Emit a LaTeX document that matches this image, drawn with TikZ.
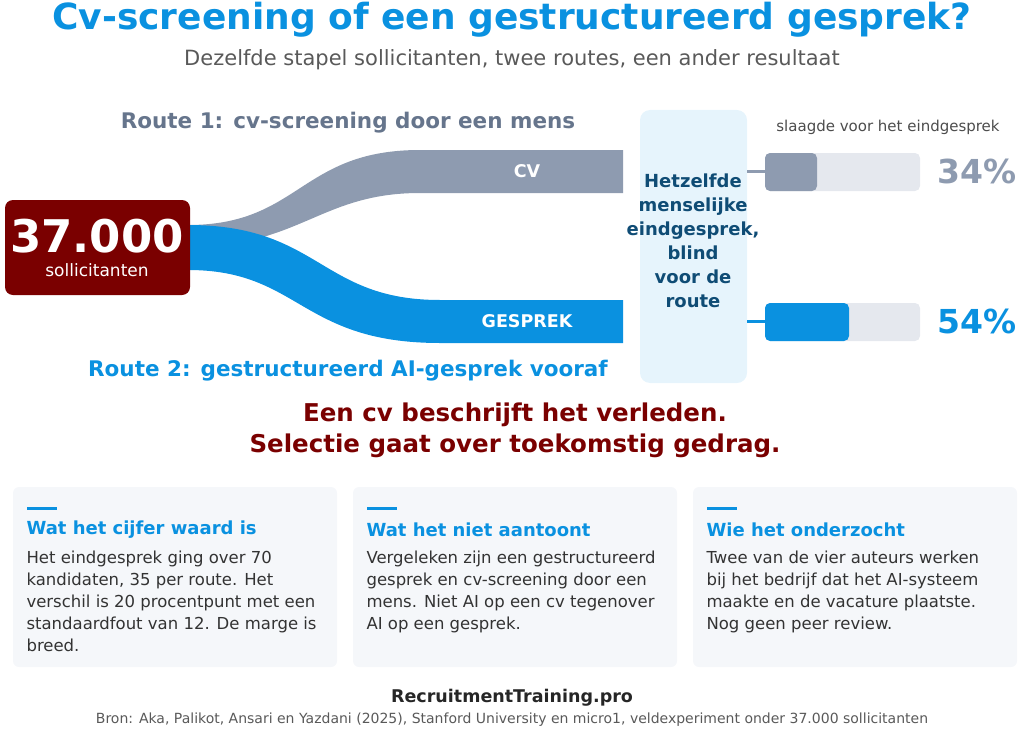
\documentclass[tikz,border=0pt]{standalone}
\usepackage{fontspec}
\setmainfont{DejaVu Sans}
\usetikzlibrary{positioning}
\definecolor{kblue}{HTML}{0A91E0}
\definecolor{kgray}{HTML}{8E9BB0}
\definecolor{kslate}{HTML}{66758C}
\definecolor{kred}{HTML}{7A0000}
\definecolor{kpanel}{HTML}{E6F4FC}
\definecolor{knavy}{HTML}{0F4C75}
\definecolor{ktrack}{HTML}{E5E8EE}
\definecolor{kcard}{HTML}{F5F7FA}
\definecolor{ktext}{HTML}{333333}
\tikzset{
  fs/.style 2 args  = {font=\fontsize{#1}{#2}\selectfont},
  fsb/.style 2 args = {font=\fontsize{#1}{#2}\selectfont\bfseries},
  card/.style     = {fill=kcard, rounded corners=6pt},
  cardhead/.style = {anchor=west, text=kblue, fsb={18}{21}},
  cardbody/.style = {anchor=north west, text=ktext, align=left, fs={16.5}{22}},
  track/.style    = {fill=ktrack, rounded corners=5pt},
  pct/.style      = {anchor=center, fsb={33}{38}}
}
\begin{document}
\begin{tikzpicture}[x=1pt, y=-1pt]
  \useasboundingbox (0,0) rectangle (1024,733);
  % titles
  \node[text=kblue, fsb={36}{40}] (title) at (512,20) {Cv-screening of een gestructureerd gesprek?};
  \node[text=black!65, fs={21}{24}] (sub) at (512,60) {Dezelfde stapel sollicitanten, twee routes, een ander resultaat};
  \node[text=kslate, fsb={21.5}{24}] (r1) at (348,123) {Route 1: cv-screening door een mens};
  \node[text=kblue, fsb={21.5}{24}] (r2) at (348,371) {Route 2: gestructureerd AI-gesprek vooraf};

  % flows
  \fill[kgray] (188,225) .. controls (300,225) and (300,150) .. (420,150) -- (623,150)
    -- (623,193) -- (420,193) .. controls (320,193) and (300,247) .. (188,247) -- cycle;
  \fill[kblue] (188,225) .. controls (320,225) and (320,300) .. (440,300) -- (623,300)
    -- (623,343) -- (440,343) .. controls (300,343) and (300,270) .. (188,270) -- cycle;
  \node[text=white, fsb={17.5}{20}] (cv) at (527,171) {CV};
  \node[text=white, fsb={17.5}{20}] (gs) at (527,321) {GESPREK};

  % applicants
  \fill[kred, rounded corners=8pt] (5,200) rectangle (190,295);
  \node[text=white, fsb={45}{50}] (num) at (97,236) {37.000};
  \node[text=white, fs={17}{20}] (numl) at (97,270) {sollicitanten};

  % interview panel
  \fill[kpanel, rounded corners=10pt] (640,110) rectangle (747,383);
  \node[text=knavy, fsb={18}{24}, align=center] (panel) at (693,241)
    {Hetzelfde\\menselijke\\eindgesprek,\\blind\\voor de\\route};

  % results
  \node[text=black!70, fs={15}{18}] (pass) at (888,127) {slaagde voor het eindgesprek};
  \draw[kgray, line width=3pt] (747,171) -- (765,171);
  \fill[track] (765,153) rectangle (920,191);
  \fill[kgray, rounded corners=5pt] (765,153) rectangle (817,191);
  \node[pct, text=kgray] (p1) at (977,171) {34\%};
  \draw[kblue, line width=3pt] (747,321) -- (765,321);
  \fill[track] (765,303) rectangle (920,341);
  \fill[kblue, rounded corners=5pt] (765,303) rectangle (849,341);
  \node[pct, text=kblue] (p2) at (977,321) {54\%};

  % statement
  \node[text=kred, fsb={24.5}{31}, align=center] (msg) at (515,430)
    {Een cv beschrijft het verleden.\\Selectie gaat over toekomstig gedrag.};

  % cards
  \foreach \x/\head/\body in {
    13/Wat het cijfer waard is/{Het eindgesprek ging over 70\\kandidaten, 35 per route. Het\\verschil is 20 procentpunt met een\\standaardfout van 12. De marge is\\breed.},
    353/Wat het niet aantoont/{Vergeleken zijn een gestructureerd\\gesprek en cv-screening door een\\mens. Niet AI op een cv tegenover\\AI op een gesprek.},
    693/Wie het onderzocht/{Twee van de vier auteurs werken\\bij het bedrijf dat het AI-systeem\\maakte en de vacature plaatste.\\Nog geen peer review.}} {
    \fill[card] (\x,487) rectangle ++(324,180);
    \draw[kblue, line width=3pt] (\x+14,508) -- ++(30,0);
    \node[cardhead] at (\x+10,530) {\head};
    \node[cardbody] at (\x+10,547) {\body};
  }

  % footer
  \node[text=black!85, fsb={17.5}{20}] (brand) at (512,698) {RecruitmentTraining.pro};
  \node[text=black!65, fs={14}{16}] (src) at (512,720)
    {Bron: Aka, Palikot, Ansari en Yazdani (2025), Stanford University en micro1, veldexperiment onder 37.000 sollicitanten};
\end{tikzpicture}
\end{document}
